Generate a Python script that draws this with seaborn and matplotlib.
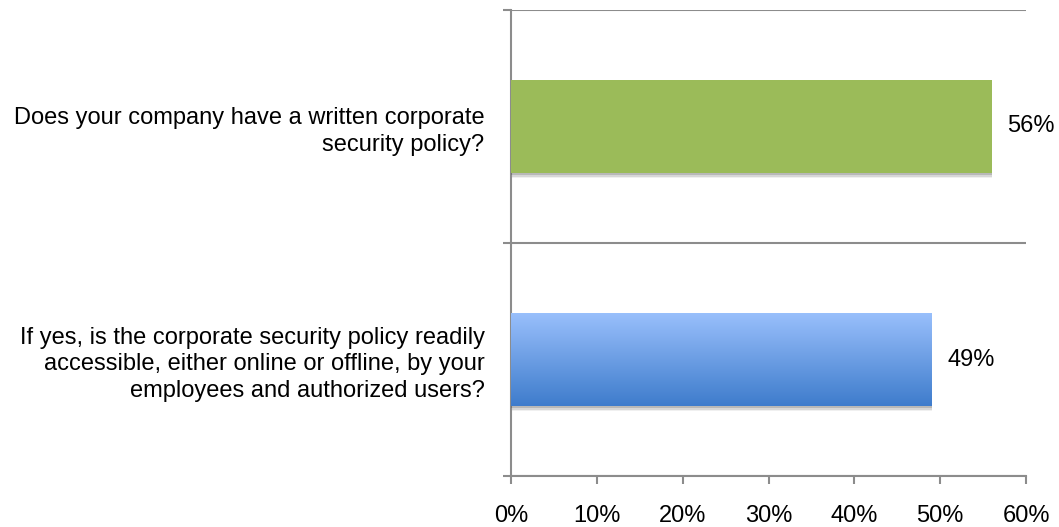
import numpy as np
import pandas as pd
import matplotlib
matplotlib.use("Agg")
import matplotlib.pyplot as plt
import matplotlib.patheffects as pe
from matplotlib.colors import LinearSegmentedColormap
from matplotlib.ticker import FixedLocator, FuncFormatter
import seaborn as sns

questions = [
    "Does your company have a written corporate\nsecurity policy?",
    "If yes, is the corporate security policy readily\naccessible, either online or offline, by your\nemployees and authorized users?",
]
percent_yes = [56, 49]
x_ticks = [0, 10, 20, 30, 40, 50, 60]

sns.set_theme(style="white")
plt.rcParams["font.family"] = ["Liberation Sans", "DejaVu Sans"]

df = pd.DataFrame({"question": questions, "percent": percent_yes})

fig = plt.figure(figsize=(10.59, 5.27), dpi=100)
ax = fig.add_axes([511 / 1059, 51 / 527, 515 / 1059, 466 / 527])

sns.barplot(data=df, x="percent", y="question", orient="h", width=0.4,
            palette=["#9bbb59", "#5b93e0"], hue="question", legend=False,
            saturation=1, ax=ax, zorder=3)

# soft drop shadow beneath each bar
shadow = [pe.SimplePatchShadow(offset=(0.5, -3.5), shadow_rgbFace="#000000", alpha=0.06),
          pe.SimplePatchShadow(offset=(0.5, -2.5), shadow_rgbFace="#000000", alpha=0.10),
          pe.SimplePatchShadow(offset=(0.3, -1.5), shadow_rgbFace="#000000", alpha=0.14),
          pe.Normal()]
bars = list(ax.patches)
for b in bars:
    b.set_edgecolor("none")
    b.set_path_effects(shadow)

# vertical gradient fill for the second bar
blue = bars[1]
x0, y0 = blue.get_x(), blue.get_y()
w, h = blue.get_width(), blue.get_height()
cmap = LinearSegmentedColormap.from_list("bluegrad", ["#9ac0fc", "#3e7ccc"])
grad = np.linspace(0, 1, 256).reshape(-1, 1)
im = ax.imshow(grad, cmap=cmap, aspect="auto", extent=(x0, x0 + w, y0 + h, y0),
               origin="upper", zorder=4)
im.set_clip_path(blue)

ax.set_xlim(0, 60)
ax.set_ylim(1.5, -0.5)

for b, v in zip(bars, percent_yes):
    ax.text(v + 1.8, b.get_y() + b.get_height() / 2, f"{v}%", va="center",
            ha="left", fontsize=17, color="#000000")

grey = "#8c8c8c"
ax.xaxis.set_major_locator(FixedLocator(x_ticks))
ax.xaxis.set_major_formatter(FuncFormatter(lambda v, p: f"{v:.0f}%"))
ax.yaxis.set_major_locator(FixedLocator([-0.5, 0.5, 1.5]))
ax.yaxis.set_minor_locator(FixedLocator([0, 1]))
ax.set_yticklabels([], minor=False)
ax.set_yticklabels(questions, minor=True, ha="right", fontsize=17,
                   linespacing=1.27, color="#000000")
ax.tick_params(axis="y", which="minor", length=0, pad=19)
ax.tick_params(axis="y", which="major", direction="out", length=6, width=1.5,
               color=grey, left=True)
ax.tick_params(axis="x", which="major", direction="out", length=6, width=1.5,
               color=grey, bottom=True, labelsize=17, pad=15,
               labelcolor="#000000")

ax.grid(axis="y", which="major", color=grey, linewidth=1.5, zorder=1)
ax.grid(axis="x", visible=False)
for side in ["top", "right"]:
    ax.spines[side].set_visible(False)
for side in ["left", "bottom"]:
    ax.spines[side].set_color(grey)
    ax.spines[side].set_linewidth(1.5)
ax.set_xlabel("")
ax.set_ylabel("")

fig.savefig("out.png", dpi=100)
